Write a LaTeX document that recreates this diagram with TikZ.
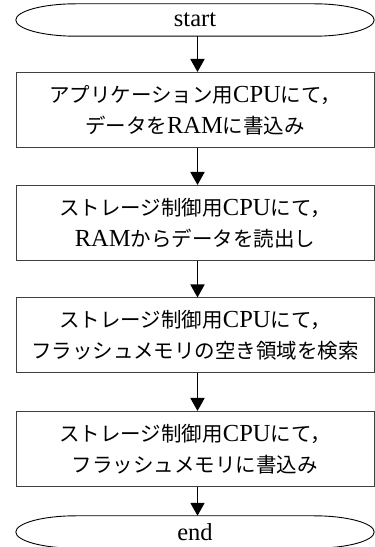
\documentclass[tikz,border=0pt]{standalone}
\usepackage{fontspec}
\setmainfont{Liberation Serif}
\newfontfamily\jpf{Noto Sans CJK JP}
\usetikzlibrary{arrows.meta,calc}
\newcommand\jt[1]{{\jpf\fontsize{20.5}{31}\selectfont #1}}
\newcommand\termpath[1]{%
  \draw[termline] ($(#1.north west)+(60,0)$) -- ($(#1.north east)+(-60,0)$)
    .. controls ($(#1.north east)+(-26.9,0)$) and ($(#1.east)+(0,8.8)$) .. (#1.east)
    .. controls ($(#1.east)+(0,-8.8)$) and ($(#1.south east)+(-26.9,0)$) .. ($(#1.south east)+(-60,0)$)
    -- ($(#1.south west)+(60,0)$)
    .. controls ($(#1.south west)+(26.9,0)$) and ($(#1.west)+(0,-8.8)$) .. (#1.west)
    .. controls ($(#1.west)+(0,8.8)$) and ($(#1.north west)+(26.9,0)$) .. cycle;}
\begin{document}
\begin{tikzpicture}[x=1pt,y=1pt,
  termnode/.style={minimum width=358pt,minimum height=32pt,inner sep=0pt,
    font=\fontsize{24.5}{31}\selectfont},
  termline/.style={draw=black,line width=0.9pt},
  procbox/.style={draw=black!75,line width=1pt,minimum width=358pt,minimum height=75pt,
    inner sep=0pt,align=center,font=\fontsize{24.5}{31}\selectfont},
  flowarrow/.style={line width=1.8pt,-{Triangle[width=14pt,length=13pt]}}]
\useasboundingbox (0,0) rectangle (375,547);
\node[termnode] (start) at (195,527) {start};
\termpath{start}
\node[procbox] (b1) at (195,437) {\jt{アプリケーション用}CPU\jt{にて，}\\\jt{データを}RAM\jt{に書込み}};
\node[procbox] (b2) at (195,324) {\jt{ストレージ制御用}CPU\jt{にて，}\\RAM\jt{からデータを読出し}};
\node[procbox] (b3) at (195,211.5) {\jt{ストレージ制御用}CPU\jt{にて，}\\\jt{フラッシュメモリの空き領域を検索}};
\node[procbox] (b4) at (195,98) {\jt{ストレージ制御用}CPU\jt{にて，}\\\jt{フラッシュメモリに書込み}};
\node[termnode] (end) at (195,15) {end};
\termpath{end}
\draw[flowarrow] ([xshift=2.5pt]start.south) -- ([xshift=2.5pt]b1.north);
\draw[flowarrow] ([xshift=2.5pt]b1.south) -- ([xshift=2.5pt]b2.north);
\draw[flowarrow] ([xshift=2.5pt]b2.south) -- ([xshift=2.5pt]b3.north);
\draw[flowarrow] ([xshift=2.5pt]b3.south) -- ([xshift=2.5pt]b4.north);
\draw[flowarrow] ([xshift=2.5pt]b4.south) -- ([xshift=2.5pt]end.north);
\end{tikzpicture}
\end{document}
